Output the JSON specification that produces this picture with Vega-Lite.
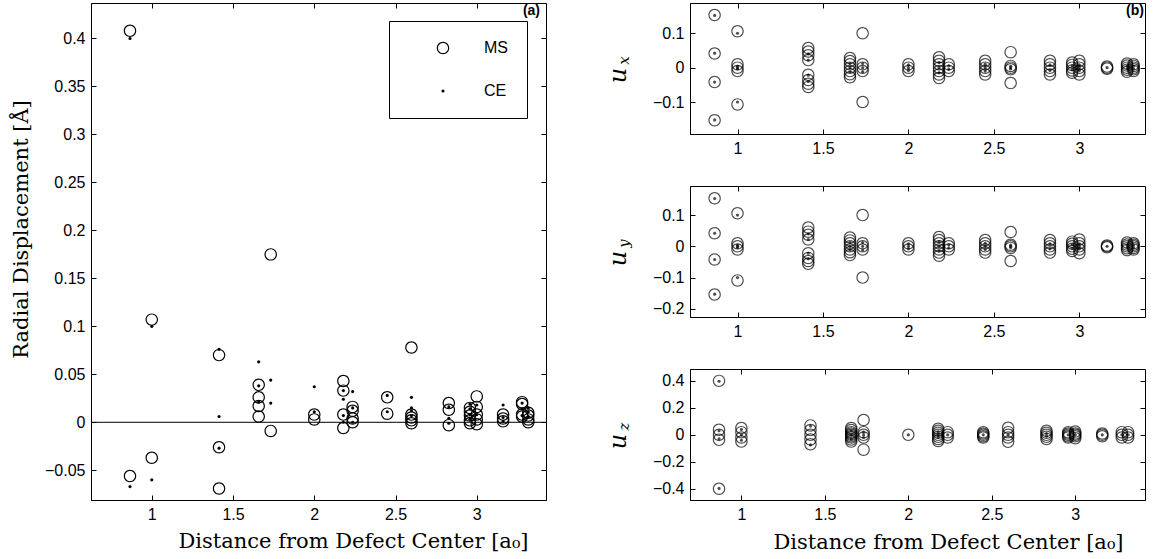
{
"$schema": "https://vega.github.io/schema/vega-lite/v6.json",
"background": "white",
"padding": {"left": 9, "top": 2, "right": 5, "bottom": 5},
"config": {
  "numberFormat": "~g",
  "view": {"stroke": "black", "strokeWidth": 1},
  "axis": {"grid": false, "domainColor": "black", "tickColor": "black", "labelColor": "black", "titleColor": "black", "labelFont": "Liberation Sans", "labelFontSize": 16, "tickSize": -5, "tickWidth": 1, "titleFont": "DejaVu Serif", "titleFontSize": 21, "titleFontWeight": "normal"},
  "axisX": {"labelPadding": 11},
  "axisY": {"labelPadding": 11}
},
"datasets": {
"radial": [
{"r":0.866,"v":0.408,"s":"MS"},{"r":0.866,"v":-0.056,"s":"MS"},
{"r":1,"v":0.107,"s":"MS"},{"r":1,"v":-0.037,"s":"MS"},
{"r":1.414,"v":0.070,"s":"MS"},{"r":1.414,"v":-0.026,"s":"MS"},{"r":1.414,"v":-0.069,"s":"MS"},
{"r":1.658,"v":0.039,"s":"MS"},{"r":1.658,"v":0.026,"s":"MS"},{"r":1.658,"v":0.017,"s":"MS"},{"r":1.658,"v":0.006,"s":"MS"},
{"r":1.732,"v":0.175,"s":"MS"},{"r":1.732,"v":-0.009,"s":"MS"},
{"r":2,"v":0.008,"s":"MS"},{"r":2,"v":0.003,"s":"MS"},
{"r":2.179,"v":0.043,"s":"MS"},{"r":2.179,"v":0.033,"s":"MS"},{"r":2.179,"v":0.008,"s":"MS"},{"r":2.179,"v":-0.006,"s":"MS"},
{"r":2.236,"v":0.016,"s":"MS"},{"r":2.236,"v":0.012,"s":"MS"},{"r":2.236,"v":0.004,"s":"MS"},{"r":2.236,"v":0.0,"s":"MS"},
{"r":2.449,"v":0.026,"s":"MS"},{"r":2.449,"v":0.009,"s":"MS"},
{"r":2.598,"v":0.078,"s":"MS"},{"r":2.598,"v":0.008,"s":"MS"},{"r":2.598,"v":0.005,"s":"MS"},{"r":2.598,"v":0.002,"s":"MS"},{"r":2.598,"v":-0.001,"s":"MS"},
{"r":2.828,"v":0.020,"s":"MS"},{"r":2.828,"v":0.013,"s":"MS"},{"r":2.828,"v":-0.003,"s":"MS"},
{"r":2.958,"v":0.015,"s":"MS"},{"r":2.958,"v":0.011,"s":"MS"},{"r":2.958,"v":0.007,"s":"MS"},{"r":2.958,"v":0.002,"s":"MS"},{"r":2.958,"v":-0.001,"s":"MS"},
{"r":3,"v":0.027,"s":"MS"},{"r":3,"v":0.016,"s":"MS"},{"r":3,"v":0.008,"s":"MS"},{"r":3,"v":0.003,"s":"MS"},{"r":3,"v":-0.002,"s":"MS"},
{"r":3.162,"v":0.008,"s":"MS"},{"r":3.162,"v":0.004,"s":"MS"},{"r":3.162,"v":0.001,"s":"MS"},
{"r":3.279,"v":0.021,"s":"MS"},{"r":3.279,"v":0.019,"s":"MS"},{"r":3.279,"v":0.008,"s":"MS"},{"r":3.279,"v":0.006,"s":"MS"},
{"r":3.317,"v":0.010,"s":"MS"},{"r":3.317,"v":0.007,"s":"MS"},{"r":3.317,"v":0.003,"s":"MS"},{"r":3.317,"v":0.0,"s":"MS"},
{"r":0.866,"v":0.400,"s":"CE"},{"r":0.866,"v":-0.067,"s":"CE"},
{"r":1,"v":0.100,"s":"CE"},{"r":1,"v":-0.060,"s":"CE"},
{"r":1.414,"v":0.076,"s":"CE"},{"r":1.414,"v":0.006,"s":"CE"},{"r":1.414,"v":-0.027,"s":"CE"},
{"r":1.658,"v":0.063,"s":"CE"},{"r":1.658,"v":0.038,"s":"CE"},{"r":1.658,"v":0.021,"s":"CE"},
{"r":1.732,"v":0.044,"s":"CE"},{"r":1.732,"v":0.020,"s":"CE"},
{"r":2,"v":0.037,"s":"CE"},{"r":2,"v":0.011,"s":"CE"},
{"r":2.179,"v":0.033,"s":"CE"},{"r":2.179,"v":0.024,"s":"CE"},{"r":2.179,"v":0.007,"s":"CE"},{"r":2.179,"v":0.0,"s":"CE"},
{"r":2.236,"v":0.032,"s":"CE"},{"r":2.236,"v":0.015,"s":"CE"},{"r":2.236,"v":0.0,"s":"CE"},
{"r":2.449,"v":0.028,"s":"CE"},{"r":2.449,"v":0.011,"s":"CE"},
{"r":2.598,"v":0.026,"s":"CE"},{"r":2.598,"v":0.015,"s":"CE"},{"r":2.598,"v":0.012,"s":"CE"},{"r":2.598,"v":0.007,"s":"CE"},
{"r":2.828,"v":0.016,"s":"CE"},{"r":2.828,"v":0.004,"s":"CE"},{"r":2.828,"v":-0.001,"s":"CE"},
{"r":2.958,"v":0.019,"s":"CE"},{"r":2.958,"v":0.014,"s":"CE"},{"r":2.958,"v":0.008,"s":"CE"},{"r":2.958,"v":0.003,"s":"CE"},
{"r":3,"v":0.018,"s":"CE"},{"r":3,"v":0.008,"s":"CE"},
{"r":3.162,"v":0.018,"s":"CE"},{"r":3.162,"v":0.005,"s":"CE"},{"r":3.162,"v":0.001,"s":"CE"},
{"r":3.279,"v":0.020,"s":"CE"},{"r":3.279,"v":0.014,"s":"CE"},{"r":3.279,"v":0.007,"s":"CE"},
{"r":3.317,"v":0.015,"s":"CE"},{"r":3.317,"v":0.011,"s":"CE"},{"r":3.317,"v":0.006,"s":"CE"}
],
"comp": [
{"c":"ux","r":0.866,"v":0.153,"s":"MS"},{"c":"ux","r":0.866,"v":0.041,"s":"MS"},{"c":"ux","r":0.866,"v":-0.042,"s":"MS"},{"c":"ux","r":0.866,"v":-0.153,"s":"MS"},
{"c":"ux","r":1,"v":0.106,"s":"MS"},{"c":"ux","r":1,"v":0.01,"s":"MS"},{"c":"ux","r":1,"v":0,"s":"MS"},{"c":"ux","r":1,"v":-0.01,"s":"MS"},{"c":"ux","r":1,"v":-0.107,"s":"MS"},
{"c":"ux","r":1.414,"v":0.057,"s":"MS"},{"c":"ux","r":1.414,"v":0.047,"s":"MS"},{"c":"ux","r":1.414,"v":0.036,"s":"MS"},{"c":"ux","r":1.414,"v":0.022,"s":"MS"},{"c":"ux","r":1.414,"v":-0.021,"s":"MS"},{"c":"ux","r":1.414,"v":-0.036,"s":"MS"},{"c":"ux","r":1.414,"v":-0.047,"s":"MS"},{"c":"ux","r":1.414,"v":-0.056,"s":"MS"},
{"c":"ux","r":1.658,"v":0.028,"s":"MS"},{"c":"ux","r":1.658,"v":0.019,"s":"MS"},{"c":"ux","r":1.658,"v":0.01,"s":"MS"},{"c":"ux","r":1.658,"v":0,"s":"MS"},{"c":"ux","r":1.658,"v":-0.01,"s":"MS"},{"c":"ux","r":1.658,"v":-0.019,"s":"MS"},{"c":"ux","r":1.658,"v":-0.028,"s":"MS"},
{"c":"ux","r":1.732,"v":0.1,"s":"MS"},{"c":"ux","r":1.732,"v":0.01,"s":"MS"},{"c":"ux","r":1.732,"v":0,"s":"MS"},{"c":"ux","r":1.732,"v":-0.01,"s":"MS"},{"c":"ux","r":1.732,"v":-0.1,"s":"MS"},
{"c":"ux","r":2,"v":0.01,"s":"MS"},{"c":"ux","r":2,"v":0,"s":"MS"},{"c":"ux","r":2,"v":-0.01,"s":"MS"},
{"c":"ux","r":2.179,"v":0.03,"s":"MS"},{"c":"ux","r":2.179,"v":0.02,"s":"MS"},{"c":"ux","r":2.179,"v":0.01,"s":"MS"},{"c":"ux","r":2.179,"v":0,"s":"MS"},{"c":"ux","r":2.179,"v":-0.01,"s":"MS"},{"c":"ux","r":2.179,"v":-0.02,"s":"MS"},{"c":"ux","r":2.179,"v":-0.03,"s":"MS"},
{"c":"ux","r":2.236,"v":0.01,"s":"MS"},{"c":"ux","r":2.236,"v":0,"s":"MS"},{"c":"ux","r":2.236,"v":-0.01,"s":"MS"},
{"c":"ux","r":2.449,"v":0.02,"s":"MS"},{"c":"ux","r":2.449,"v":0.01,"s":"MS"},{"c":"ux","r":2.449,"v":0,"s":"MS"},{"c":"ux","r":2.449,"v":-0.01,"s":"MS"},{"c":"ux","r":2.449,"v":-0.02,"s":"MS"},
{"c":"ux","r":2.598,"v":0.045,"s":"MS"},{"c":"ux","r":2.598,"v":0.005,"s":"MS"},{"c":"ux","r":2.598,"v":0,"s":"MS"},{"c":"ux","r":2.598,"v":-0.005,"s":"MS"},{"c":"ux","r":2.598,"v":-0.045,"s":"MS"},
{"c":"ux","r":2.828,"v":0.02,"s":"MS"},{"c":"ux","r":2.828,"v":0.01,"s":"MS"},{"c":"ux","r":2.828,"v":0,"s":"MS"},{"c":"ux","r":2.828,"v":-0.01,"s":"MS"},{"c":"ux","r":2.828,"v":-0.02,"s":"MS"},
{"c":"ux","r":2.958,"v":0.015,"s":"MS"},{"c":"ux","r":2.958,"v":0.008,"s":"MS"},{"c":"ux","r":2.958,"v":0,"s":"MS"},{"c":"ux","r":2.958,"v":-0.008,"s":"MS"},{"c":"ux","r":2.958,"v":-0.015,"s":"MS"},
{"c":"ux","r":3,"v":0.02,"s":"MS"},{"c":"ux","r":3,"v":0.01,"s":"MS"},{"c":"ux","r":3,"v":0,"s":"MS"},{"c":"ux","r":3,"v":-0.01,"s":"MS"},{"c":"ux","r":3,"v":-0.02,"s":"MS"},
{"c":"ux","r":3.162,"v":0.003,"s":"MS"},{"c":"ux","r":3.162,"v":0,"s":"MS"},{"c":"ux","r":3.162,"v":-0.003,"s":"MS"},
{"c":"ux","r":3.279,"v":0.012,"s":"MS"},{"c":"ux","r":3.279,"v":0.006,"s":"MS"},{"c":"ux","r":3.279,"v":0,"s":"MS"},{"c":"ux","r":3.279,"v":-0.006,"s":"MS"},{"c":"ux","r":3.279,"v":-0.012,"s":"MS"},
{"c":"ux","r":3.317,"v":0.01,"s":"MS"},{"c":"ux","r":3.317,"v":0.005,"s":"MS"},{"c":"ux","r":3.317,"v":0,"s":"MS"},{"c":"ux","r":3.317,"v":-0.005,"s":"MS"},{"c":"ux","r":3.317,"v":-0.01,"s":"MS"},
{"c":"ux","r":0.866,"v":0.152,"s":"CE"},{"c":"ux","r":0.866,"v":0.042,"s":"CE"},{"c":"ux","r":0.866,"v":-0.042,"s":"CE"},{"c":"ux","r":0.866,"v":-0.152,"s":"CE"},
{"c":"ux","r":1,"v":0.1,"s":"CE"},{"c":"ux","r":1,"v":0.004,"s":"CE"},{"c":"ux","r":1,"v":0,"s":"CE"},{"c":"ux","r":1,"v":-0.004,"s":"CE"},{"c":"ux","r":1,"v":-0.1,"s":"CE"},
{"c":"ux","r":1.414,"v":0.04,"s":"CE"},{"c":"ux","r":1.414,"v":0.022,"s":"CE"},{"c":"ux","r":1.414,"v":-0.022,"s":"CE"},{"c":"ux","r":1.414,"v":-0.04,"s":"CE"},
{"c":"ux","r":1.658,"v":0.012,"s":"CE"},{"c":"ux","r":1.658,"v":0,"s":"CE"},{"c":"ux","r":1.658,"v":-0.012,"s":"CE"},
{"c":"ux","r":1.732,"v":0.012,"s":"CE"},{"c":"ux","r":1.732,"v":0,"s":"CE"},{"c":"ux","r":1.732,"v":-0.012,"s":"CE"},
{"c":"ux","r":2,"v":0.008,"s":"CE"},{"c":"ux","r":2,"v":0,"s":"CE"},{"c":"ux","r":2,"v":-0.008,"s":"CE"},
{"c":"ux","r":2.179,"v":0.015,"s":"CE"},{"c":"ux","r":2.179,"v":0,"s":"CE"},{"c":"ux","r":2.179,"v":-0.015,"s":"CE"},
{"c":"ux","r":2.236,"v":0.005,"s":"CE"},{"c":"ux","r":2.236,"v":-0.005,"s":"CE"},
{"c":"ux","r":2.449,"v":0.01,"s":"CE"},{"c":"ux","r":2.449,"v":0,"s":"CE"},{"c":"ux","r":2.449,"v":-0.01,"s":"CE"},
{"c":"ux","r":2.598,"v":0.004,"s":"CE"},{"c":"ux","r":2.598,"v":0,"s":"CE"},{"c":"ux","r":2.598,"v":-0.004,"s":"CE"},
{"c":"ux","r":2.828,"v":0.008,"s":"CE"},{"c":"ux","r":2.828,"v":-0.008,"s":"CE"},
{"c":"ux","r":2.958,"v":0.006,"s":"CE"},{"c":"ux","r":2.958,"v":-0.006,"s":"CE"},
{"c":"ux","r":3,"v":0.008,"s":"CE"},{"c":"ux","r":3,"v":0,"s":"CE"},{"c":"ux","r":3,"v":-0.008,"s":"CE"},
{"c":"ux","r":3.162,"v":0,"s":"CE"},
{"c":"ux","r":3.279,"v":0.004,"s":"CE"},{"c":"ux","r":3.279,"v":-0.004,"s":"CE"},
{"c":"ux","r":3.317,"v":0.004,"s":"CE"},{"c":"ux","r":3.317,"v":-0.004,"s":"CE"},

{"c":"uy","r":0.866,"v":0.154,"s":"MS"},{"c":"uy","r":0.866,"v":0.042,"s":"MS"},{"c":"uy","r":0.866,"v":-0.042,"s":"MS"},{"c":"uy","r":0.866,"v":-0.154,"s":"MS"},
{"c":"uy","r":1,"v":0.106,"s":"MS"},{"c":"uy","r":1,"v":0.01,"s":"MS"},{"c":"uy","r":1,"v":0,"s":"MS"},{"c":"uy","r":1,"v":-0.01,"s":"MS"},{"c":"uy","r":1,"v":-0.109,"s":"MS"},
{"c":"uy","r":1.414,"v":0.06,"s":"MS"},{"c":"uy","r":1.414,"v":0.047,"s":"MS"},{"c":"uy","r":1.414,"v":0.037,"s":"MS"},{"c":"uy","r":1.414,"v":0.022,"s":"MS"},{"c":"uy","r":1.414,"v":-0.022,"s":"MS"},{"c":"uy","r":1.414,"v":-0.037,"s":"MS"},{"c":"uy","r":1.414,"v":-0.047,"s":"MS"},{"c":"uy","r":1.414,"v":-0.056,"s":"MS"},
{"c":"uy","r":1.658,"v":0.028,"s":"MS"},{"c":"uy","r":1.658,"v":0.019,"s":"MS"},{"c":"uy","r":1.658,"v":0.01,"s":"MS"},{"c":"uy","r":1.658,"v":0,"s":"MS"},{"c":"uy","r":1.658,"v":-0.01,"s":"MS"},{"c":"uy","r":1.658,"v":-0.019,"s":"MS"},{"c":"uy","r":1.658,"v":-0.028,"s":"MS"},
{"c":"uy","r":1.732,"v":0.1,"s":"MS"},{"c":"uy","r":1.732,"v":0.01,"s":"MS"},{"c":"uy","r":1.732,"v":0,"s":"MS"},{"c":"uy","r":1.732,"v":-0.01,"s":"MS"},{"c":"uy","r":1.732,"v":-0.1,"s":"MS"},
{"c":"uy","r":2,"v":0.01,"s":"MS"},{"c":"uy","r":2,"v":0,"s":"MS"},{"c":"uy","r":2,"v":-0.01,"s":"MS"},
{"c":"uy","r":2.179,"v":0.03,"s":"MS"},{"c":"uy","r":2.179,"v":0.02,"s":"MS"},{"c":"uy","r":2.179,"v":0.01,"s":"MS"},{"c":"uy","r":2.179,"v":0,"s":"MS"},{"c":"uy","r":2.179,"v":-0.01,"s":"MS"},{"c":"uy","r":2.179,"v":-0.02,"s":"MS"},{"c":"uy","r":2.179,"v":-0.03,"s":"MS"},
{"c":"uy","r":2.236,"v":0.01,"s":"MS"},{"c":"uy","r":2.236,"v":0,"s":"MS"},{"c":"uy","r":2.236,"v":-0.01,"s":"MS"},
{"c":"uy","r":2.449,"v":0.02,"s":"MS"},{"c":"uy","r":2.449,"v":0.01,"s":"MS"},{"c":"uy","r":2.449,"v":0,"s":"MS"},{"c":"uy","r":2.449,"v":-0.01,"s":"MS"},{"c":"uy","r":2.449,"v":-0.02,"s":"MS"},
{"c":"uy","r":2.598,"v":0.046,"s":"MS"},{"c":"uy","r":2.598,"v":0.005,"s":"MS"},{"c":"uy","r":2.598,"v":0,"s":"MS"},{"c":"uy","r":2.598,"v":-0.005,"s":"MS"},{"c":"uy","r":2.598,"v":-0.047,"s":"MS"},
{"c":"uy","r":2.828,"v":0.02,"s":"MS"},{"c":"uy","r":2.828,"v":0.01,"s":"MS"},{"c":"uy","r":2.828,"v":0,"s":"MS"},{"c":"uy","r":2.828,"v":-0.01,"s":"MS"},{"c":"uy","r":2.828,"v":-0.02,"s":"MS"},
{"c":"uy","r":2.958,"v":0.015,"s":"MS"},{"c":"uy","r":2.958,"v":0.008,"s":"MS"},{"c":"uy","r":2.958,"v":0,"s":"MS"},{"c":"uy","r":2.958,"v":-0.008,"s":"MS"},{"c":"uy","r":2.958,"v":-0.015,"s":"MS"},
{"c":"uy","r":3,"v":0.022,"s":"MS"},{"c":"uy","r":3,"v":0.01,"s":"MS"},{"c":"uy","r":3,"v":0,"s":"MS"},{"c":"uy","r":3,"v":-0.01,"s":"MS"},{"c":"uy","r":3,"v":-0.022,"s":"MS"},
{"c":"uy","r":3.162,"v":0.003,"s":"MS"},{"c":"uy","r":3.162,"v":0,"s":"MS"},{"c":"uy","r":3.162,"v":-0.003,"s":"MS"},
{"c":"uy","r":3.279,"v":0.012,"s":"MS"},{"c":"uy","r":3.279,"v":0.006,"s":"MS"},{"c":"uy","r":3.279,"v":0,"s":"MS"},{"c":"uy","r":3.279,"v":-0.006,"s":"MS"},{"c":"uy","r":3.279,"v":-0.012,"s":"MS"},
{"c":"uy","r":3.317,"v":0.01,"s":"MS"},{"c":"uy","r":3.317,"v":0.005,"s":"MS"},{"c":"uy","r":3.317,"v":0,"s":"MS"},{"c":"uy","r":3.317,"v":-0.005,"s":"MS"},{"c":"uy","r":3.317,"v":-0.01,"s":"MS"},
{"c":"uy","r":0.866,"v":0.153,"s":"CE"},{"c":"uy","r":0.866,"v":0.042,"s":"CE"},{"c":"uy","r":0.866,"v":-0.042,"s":"CE"},{"c":"uy","r":0.866,"v":-0.153,"s":"CE"},
{"c":"uy","r":1,"v":0.1,"s":"CE"},{"c":"uy","r":1,"v":0.004,"s":"CE"},{"c":"uy","r":1,"v":0,"s":"CE"},{"c":"uy","r":1,"v":-0.004,"s":"CE"},{"c":"uy","r":1,"v":-0.1,"s":"CE"},
{"c":"uy","r":1.414,"v":0.04,"s":"CE"},{"c":"uy","r":1.414,"v":0.022,"s":"CE"},{"c":"uy","r":1.414,"v":-0.022,"s":"CE"},{"c":"uy","r":1.414,"v":-0.04,"s":"CE"},
{"c":"uy","r":1.658,"v":0.012,"s":"CE"},{"c":"uy","r":1.658,"v":0,"s":"CE"},{"c":"uy","r":1.658,"v":-0.012,"s":"CE"},
{"c":"uy","r":1.732,"v":0.012,"s":"CE"},{"c":"uy","r":1.732,"v":0,"s":"CE"},{"c":"uy","r":1.732,"v":-0.012,"s":"CE"},
{"c":"uy","r":2,"v":0.008,"s":"CE"},{"c":"uy","r":2,"v":0,"s":"CE"},{"c":"uy","r":2,"v":-0.008,"s":"CE"},
{"c":"uy","r":2.179,"v":0.015,"s":"CE"},{"c":"uy","r":2.179,"v":0,"s":"CE"},{"c":"uy","r":2.179,"v":-0.015,"s":"CE"},
{"c":"uy","r":2.236,"v":0.005,"s":"CE"},{"c":"uy","r":2.236,"v":-0.005,"s":"CE"},
{"c":"uy","r":2.449,"v":0.01,"s":"CE"},{"c":"uy","r":2.449,"v":0,"s":"CE"},{"c":"uy","r":2.449,"v":-0.01,"s":"CE"},
{"c":"uy","r":2.598,"v":0.004,"s":"CE"},{"c":"uy","r":2.598,"v":0,"s":"CE"},{"c":"uy","r":2.598,"v":-0.004,"s":"CE"},
{"c":"uy","r":2.828,"v":0.008,"s":"CE"},{"c":"uy","r":2.828,"v":-0.008,"s":"CE"},
{"c":"uy","r":2.958,"v":0.006,"s":"CE"},{"c":"uy","r":2.958,"v":-0.006,"s":"CE"},
{"c":"uy","r":3,"v":0.008,"s":"CE"},{"c":"uy","r":3,"v":0,"s":"CE"},{"c":"uy","r":3,"v":-0.008,"s":"CE"},
{"c":"uy","r":3.162,"v":0,"s":"CE"},
{"c":"uy","r":3.279,"v":0.004,"s":"CE"},{"c":"uy","r":3.279,"v":-0.004,"s":"CE"},
{"c":"uy","r":3.317,"v":0.004,"s":"CE"},{"c":"uy","r":3.317,"v":-0.004,"s":"CE"},

{"c":"uz","r":0.866,"v":0.4,"s":"MS"},{"c":"uz","r":0.866,"v":0.037,"s":"MS"},{"c":"uz","r":0.866,"v":0,"s":"MS"},{"c":"uz","r":0.866,"v":-0.037,"s":"MS"},{"c":"uz","r":0.866,"v":-0.4,"s":"MS"},
{"c":"uz","r":1,"v":0.05,"s":"MS"},{"c":"uz","r":1,"v":0.02,"s":"MS"},{"c":"uz","r":1,"v":-0.02,"s":"MS"},{"c":"uz","r":1,"v":-0.05,"s":"MS"},
{"c":"uz","r":1.414,"v":0.07,"s":"MS"},{"c":"uz","r":1.414,"v":0.035,"s":"MS"},{"c":"uz","r":1.414,"v":0,"s":"MS"},{"c":"uz","r":1.414,"v":-0.035,"s":"MS"},{"c":"uz","r":1.414,"v":-0.07,"s":"MS"},
{"c":"uz","r":1.658,"v":0.05,"s":"MS"},{"c":"uz","r":1.658,"v":0.035,"s":"MS"},{"c":"uz","r":1.658,"v":0.02,"s":"MS"},{"c":"uz","r":1.658,"v":0.01,"s":"MS"},{"c":"uz","r":1.658,"v":0,"s":"MS"},{"c":"uz","r":1.658,"v":-0.01,"s":"MS"},{"c":"uz","r":1.658,"v":-0.02,"s":"MS"},{"c":"uz","r":1.658,"v":-0.035,"s":"MS"},{"c":"uz","r":1.658,"v":-0.05,"s":"MS"},
{"c":"uz","r":1.732,"v":0.11,"s":"MS"},{"c":"uz","r":1.732,"v":0.02,"s":"MS"},{"c":"uz","r":1.732,"v":0,"s":"MS"},{"c":"uz","r":1.732,"v":-0.02,"s":"MS"},{"c":"uz","r":1.732,"v":-0.11,"s":"MS"},
{"c":"uz","r":2,"v":0,"s":"MS"},
{"c":"uz","r":2.179,"v":0.045,"s":"MS"},{"c":"uz","r":2.179,"v":0.03,"s":"MS"},{"c":"uz","r":2.179,"v":0.015,"s":"MS"},{"c":"uz","r":2.179,"v":0,"s":"MS"},{"c":"uz","r":2.179,"v":-0.015,"s":"MS"},{"c":"uz","r":2.179,"v":-0.03,"s":"MS"},{"c":"uz","r":2.179,"v":-0.045,"s":"MS"},
{"c":"uz","r":2.236,"v":0.02,"s":"MS"},{"c":"uz","r":2.236,"v":0,"s":"MS"},{"c":"uz","r":2.236,"v":-0.02,"s":"MS"},
{"c":"uz","r":2.449,"v":0.02,"s":"MS"},{"c":"uz","r":2.449,"v":0.01,"s":"MS"},{"c":"uz","r":2.449,"v":0,"s":"MS"},{"c":"uz","r":2.449,"v":-0.01,"s":"MS"},{"c":"uz","r":2.449,"v":-0.02,"s":"MS"},
{"c":"uz","r":2.598,"v":0.052,"s":"MS"},{"c":"uz","r":2.598,"v":0.02,"s":"MS"},{"c":"uz","r":2.598,"v":0,"s":"MS"},{"c":"uz","r":2.598,"v":-0.02,"s":"MS"},{"c":"uz","r":2.598,"v":-0.052,"s":"MS"},
{"c":"uz","r":2.828,"v":0.03,"s":"MS"},{"c":"uz","r":2.828,"v":0.015,"s":"MS"},{"c":"uz","r":2.828,"v":0,"s":"MS"},{"c":"uz","r":2.828,"v":-0.015,"s":"MS"},{"c":"uz","r":2.828,"v":-0.03,"s":"MS"},
{"c":"uz","r":2.958,"v":0.02,"s":"MS"},{"c":"uz","r":2.958,"v":0.01,"s":"MS"},{"c":"uz","r":2.958,"v":0,"s":"MS"},{"c":"uz","r":2.958,"v":-0.01,"s":"MS"},{"c":"uz","r":2.958,"v":-0.02,"s":"MS"},
{"c":"uz","r":3,"v":0.025,"s":"MS"},{"c":"uz","r":3,"v":0.01,"s":"MS"},{"c":"uz","r":3,"v":0,"s":"MS"},{"c":"uz","r":3,"v":-0.01,"s":"MS"},{"c":"uz","r":3,"v":-0.025,"s":"MS"},
{"c":"uz","r":3.162,"v":0.01,"s":"MS"},{"c":"uz","r":3.162,"v":0,"s":"MS"},{"c":"uz","r":3.162,"v":-0.01,"s":"MS"},
{"c":"uz","r":3.279,"v":0.02,"s":"MS"},{"c":"uz","r":3.279,"v":0,"s":"MS"},{"c":"uz","r":3.279,"v":-0.02,"s":"MS"},
{"c":"uz","r":3.317,"v":0.02,"s":"MS"},{"c":"uz","r":3.317,"v":0,"s":"MS"},{"c":"uz","r":3.317,"v":-0.02,"s":"MS"},
{"c":"uz","r":0.866,"v":0.397,"s":"CE"},{"c":"uz","r":0.866,"v":0.03,"s":"CE"},{"c":"uz","r":0.866,"v":-0.03,"s":"CE"},{"c":"uz","r":0.866,"v":-0.397,"s":"CE"},
{"c":"uz","r":1,"v":0.04,"s":"CE"},{"c":"uz","r":1,"v":0,"s":"CE"},{"c":"uz","r":1,"v":-0.04,"s":"CE"},
{"c":"uz","r":1.414,"v":0.065,"s":"CE"},{"c":"uz","r":1.414,"v":-0.075,"s":"CE"},
{"c":"uz","r":1.658,"v":0.03,"s":"CE"},{"c":"uz","r":1.658,"v":0,"s":"CE"},{"c":"uz","r":1.658,"v":-0.03,"s":"CE"},
{"c":"uz","r":1.732,"v":0.02,"s":"CE"},{"c":"uz","r":1.732,"v":0,"s":"CE"},{"c":"uz","r":1.732,"v":-0.02,"s":"CE"},
{"c":"uz","r":2,"v":0,"s":"CE"},
{"c":"uz","r":2.179,"v":0.02,"s":"CE"},{"c":"uz","r":2.179,"v":0,"s":"CE"},{"c":"uz","r":2.179,"v":-0.02,"s":"CE"},
{"c":"uz","r":2.236,"v":0,"s":"CE"},
{"c":"uz","r":2.449,"v":0,"s":"CE"},
{"c":"uz","r":2.598,"v":0,"s":"CE"},
{"c":"uz","r":2.828,"v":0.01,"s":"CE"},{"c":"uz","r":2.828,"v":-0.01,"s":"CE"},
{"c":"uz","r":2.958,"v":0,"s":"CE"},
{"c":"uz","r":3,"v":0,"s":"CE"},
{"c":"uz","r":3.162,"v":0,"s":"CE"},
{"c":"uz","r":3.279,"v":0,"s":"CE"},
{"c":"uz","r":3.317,"v":0,"s":"CE"}
]
},
"spacing": 144,
"bounds": "flush",
"hconcat": [
{
 "width": 455, "height": 497,
 "title": {"text": "(a)", "anchor": "end", "frame": "group", "offset": -15, "fontSize": 14, "fontWeight": "bold", "font": "Liberation Sans", "dx": -6, "color": "black"},
 "layer": [
  {"data": {"values": [{"z": 0}]},
   "mark": {"type": "rule", "color": "black", "strokeWidth": 1},
   "encoding": {"y": {"field": "z", "type": "quantitative", "scale": {"domain": [-0.081, 0.437], "nice": false, "zero": false}, "axis": null}}},
  {"data": {"name": "radial"},
   "mark": {"type": "point", "filled": true, "fill": "black", "strokeWidth": 0, "opacity": 1},
   "encoding": {
    "x": {"field": "r", "type": "quantitative", "scale": {"domain": [0.626, 3.426], "nice": false, "zero": false},
          "axis": {"values": [1, 1.5, 2, 2.5, 3], "title": "Distance from Defect Center [a₀]", "titleX": 262, "titleY": 47, "titleBaseline": "alphabetic", "titleAlign": "center"}},
    "y": {"field": "v", "type": "quantitative", "scale": {"domain": [-0.081, 0.437], "nice": false, "zero": false},
          "axis": {"values": [-0.05, 0, 0.05, 0.1, 0.15, 0.2, 0.25, 0.3, 0.35, 0.4], "title": "Radial Displacement [Å]", "titleX": -70, "titleY": 226, "titleBaseline": "middle", "titleAlign": "center", "titleAngle": 270}},
    "shape": {"field": "s", "type": "nominal", "scale": {"domain": ["MS", "CE"], "range": ["M-1,0A1,1,0,1,0,1,0A1,1,0,1,0,-1,0ZM-0.81,0A0.81,0.81,0,1,1,0.81,0A0.81,0.81,0,1,1,-0.81,0Z", "circle"]},
              "legend": {"title": null, "orient": "none", "legendX": 298, "legendY": 18, "strokeColor": "black", "fillColor": "white", "padding": 19, "symbolOffset": 27, "labelOffset": 33, "rowPadding": 27, "labelFontSize": 16, "labelFont": "Liberation Sans", "labelColor": "black", "symbolFillColor": "black", "symbolStrokeWidth": 0}},
    "size": {"field": "s", "type": "nominal", "scale": {"domain": ["MS", "CE"], "range": [156, 10]},
              "legend": {"title": null, "orient": "none", "legendX": 298, "legendY": 18, "strokeColor": "black", "fillColor": "white", "padding": 19, "symbolOffset": 27, "labelOffset": 33, "rowPadding": 27, "labelFontSize": 16, "labelFont": "Liberation Sans", "labelColor": "black", "symbolFillColor": "black", "symbolStrokeWidth": 0}}
   }},
  {"data": {"name": "radial"},
   "mark": {"type": "point", "opacity": 0},
   "encoding": {
    "x": {"field": "r", "type": "quantitative", "scale": {"domain": [0.626, 3.426], "nice": false, "zero": false},
          "axis": {"orient": "top", "values": [1, 1.5, 2, 2.5, 3], "labels": false, "title": null, "domain": false}},
    "y": {"field": "v", "type": "quantitative", "scale": {"domain": [-0.081, 0.437], "nice": false, "zero": false},
          "axis": {"orient": "right", "values": [-0.05, 0, 0.05, 0.1, 0.15, 0.2, 0.25, 0.3, 0.35, 0.4], "labels": false, "title": null, "domain": false}}
   }}
 ],
 "resolve": {"axis": {"x": "independent", "y": "independent"}}
},
{
 "spacing": 52,
 "bounds": "flush",
 "vconcat": [
  {
   "width": 455, "height": 131,
   "data": {"name": "comp"},
   "transform": [{"filter": "datum.c === 'ux'"}],
   "title": {"text": "(b)", "anchor": "end", "frame": "group", "offset": -15, "fontSize": 14, "fontWeight": "bold", "font": "Liberation Sans", "dx": -1, "color": "black"},
   "layer": [
    {"mark": {"type": "point", "filled": true, "fill": "black", "strokeWidth": 0},
     "encoding": {
      "x": {"field": "r", "type": "quantitative", "scale": {"domain": [0.722, 3.384], "nice": false, "zero": false}, "axis": {"values": [1, 1.5, 2, 2.5, 3], "title": null}},
      "y": {"field": "v", "type": "quantitative", "scale": {"domain": [-0.193, 0.188], "nice": false, "zero": false},
            "axis": {"values": [-0.1, 0, 0.1], "title": "u", "titleFont": "DejaVu Serif", "titleFontStyle": "italic", "titleFontSize": 24, "titleX": -72, "titleY": 72, "titleBaseline": "middle", "titleAlign": "center", "titleAngle": 270}},
      "shape": {"field": "s", "type": "nominal", "scale": {"domain": ["MS", "CE"], "range": ["M-1,0A1,1,0,1,0,1,0A1,1,0,1,0,-1,0ZM-0.8,0A0.8,0.8,0,1,1,0.8,0A0.8,0.8,0,1,1,-0.8,0Z", "circle"]}, "legend": null},
      "size": {"field": "s", "type": "nominal", "scale": {"domain": ["MS", "CE"], "range": [144, 9]}, "legend": null}
     }},
    {"mark": {"type": "point", "opacity": 0},
     "encoding": {
      "x": {"field": "r", "type": "quantitative", "scale": {"domain": [0.722, 3.384], "nice": false, "zero": false}, "axis": {"orient": "top", "values": [1, 1.5, 2, 2.5, 3], "labels": false, "title": null, "domain": false}},
      "y": {"field": "v", "type": "quantitative", "scale": {"domain": [-0.193, 0.188], "nice": false, "zero": false}, "axis": {"orient": "right", "values": [-0.1, 0, 0.1], "labels": false, "title": null, "domain": false}}
     }},
    {"mark": {"type": "point", "opacity": 0},
     "encoding": {
      "y": {"field": "v", "type": "quantitative", "scale": {"domain": [-0.193, 0.188], "nice": false, "zero": false},
            "axis": {"orient": "left", "labels": false, "ticks": false, "domain": false, "title": "x", "titleFont": "DejaVu Serif", "titleFontStyle": "italic", "titleFontSize": 15, "titleX": -67, "titleY": 57, "titleBaseline": "middle", "titleAlign": "center", "titleAngle": 270}}
     }}
   ],
   "resolve": {"axis": {"x": "independent", "y": "independent"}}
  },
  {
   "width": 455, "height": 131,
   "data": {"name": "comp"},
   "transform": [{"filter": "datum.c === 'uy'"}],
   "layer": [
    {"mark": {"type": "point", "filled": true, "fill": "black", "strokeWidth": 0},
     "encoding": {
      "x": {"field": "r", "type": "quantitative", "scale": {"domain": [0.722, 3.384], "nice": false, "zero": false}, "axis": {"values": [1, 1.5, 2, 2.5, 3], "title": null}},
      "y": {"field": "v", "type": "quantitative", "scale": {"domain": [-0.226, 0.193], "nice": false, "zero": false},
            "axis": {"values": [-0.2, -0.1, 0, 0.1], "title": "u", "titleFont": "DejaVu Serif", "titleFontStyle": "italic", "titleFontSize": 24, "titleX": -72, "titleY": 72, "titleBaseline": "middle", "titleAlign": "center", "titleAngle": 270}},
      "shape": {"field": "s", "type": "nominal", "scale": {"domain": ["MS", "CE"], "range": ["M-1,0A1,1,0,1,0,1,0A1,1,0,1,0,-1,0ZM-0.8,0A0.8,0.8,0,1,1,0.8,0A0.8,0.8,0,1,1,-0.8,0Z", "circle"]}, "legend": null},
      "size": {"field": "s", "type": "nominal", "scale": {"domain": ["MS", "CE"], "range": [144, 9]}, "legend": null}
     }},
    {"mark": {"type": "point", "opacity": 0},
     "encoding": {
      "x": {"field": "r", "type": "quantitative", "scale": {"domain": [0.722, 3.384], "nice": false, "zero": false}, "axis": {"orient": "top", "values": [1, 1.5, 2, 2.5, 3], "labels": false, "title": null, "domain": false}},
      "y": {"field": "v", "type": "quantitative", "scale": {"domain": [-0.226, 0.193], "nice": false, "zero": false}, "axis": {"orient": "right", "values": [-0.2, -0.1, 0, 0.1], "labels": false, "title": null, "domain": false}}
     }},
    {"mark": {"type": "point", "opacity": 0},
     "encoding": {
      "y": {"field": "v", "type": "quantitative", "scale": {"domain": [-0.226, 0.193], "nice": false, "zero": false},
            "axis": {"orient": "left", "labels": false, "ticks": false, "domain": false, "title": "y", "titleFont": "DejaVu Serif", "titleFontStyle": "italic", "titleFontSize": 15, "titleX": -67, "titleY": 57, "titleBaseline": "middle", "titleAlign": "center", "titleAngle": 270}}
     }}
   ],
   "resolve": {"axis": {"x": "independent", "y": "independent"}}
  },
  {
   "width": 455, "height": 131,
   "data": {"name": "comp"},
   "transform": [{"filter": "datum.c === 'uz'"}],
   "layer": [
    {"mark": {"type": "point", "filled": true, "fill": "black", "strokeWidth": 0},
     "encoding": {
      "x": {"field": "r", "type": "quantitative", "scale": {"domain": [0.692, 3.418], "nice": false, "zero": false},
            "axis": {"values": [1, 1.5, 2, 2.5, 3], "title": "Distance from Defect Center [a₀]", "titleX": 258, "titleY": 48, "titleBaseline": "alphabetic", "titleAlign": "center"}},
      "y": {"field": "v", "type": "quantitative", "scale": {"domain": [-0.483, 0.488], "nice": false, "zero": false},
            "axis": {"values": [-0.4, -0.2, 0, 0.2, 0.4], "title": "u", "titleFont": "DejaVu Serif", "titleFontStyle": "italic", "titleFontSize": 24, "titleX": -72, "titleY": 72, "titleBaseline": "middle", "titleAlign": "center", "titleAngle": 270}},
      "shape": {"field": "s", "type": "nominal", "scale": {"domain": ["MS", "CE"], "range": ["M-1,0A1,1,0,1,0,1,0A1,1,0,1,0,-1,0ZM-0.8,0A0.8,0.8,0,1,1,0.8,0A0.8,0.8,0,1,1,-0.8,0Z", "circle"]}, "legend": null},
      "size": {"field": "s", "type": "nominal", "scale": {"domain": ["MS", "CE"], "range": [144, 9]}, "legend": null}
     }},
    {"mark": {"type": "point", "opacity": 0},
     "encoding": {
      "x": {"field": "r", "type": "quantitative", "scale": {"domain": [0.692, 3.418], "nice": false, "zero": false}, "axis": {"orient": "top", "values": [1, 1.5, 2, 2.5, 3], "labels": false, "title": null, "domain": false}},
      "y": {"field": "v", "type": "quantitative", "scale": {"domain": [-0.483, 0.488], "nice": false, "zero": false}, "axis": {"orient": "right", "values": [-0.4, -0.2, 0, 0.2, 0.4], "labels": false, "title": null, "domain": false}}
     }},
    {"mark": {"type": "point", "opacity": 0},
     "encoding": {
      "y": {"field": "v", "type": "quantitative", "scale": {"domain": [-0.483, 0.488], "nice": false, "zero": false},
            "axis": {"orient": "left", "labels": false, "ticks": false, "domain": false, "title": "z", "titleFont": "DejaVu Serif", "titleFontStyle": "italic", "titleFontSize": 15, "titleX": -67, "titleY": 57, "titleBaseline": "middle", "titleAlign": "center", "titleAngle": 270}}
     }}
   ],
   "resolve": {"axis": {"x": "independent", "y": "independent"}}
  }
 ]
}
]
}
